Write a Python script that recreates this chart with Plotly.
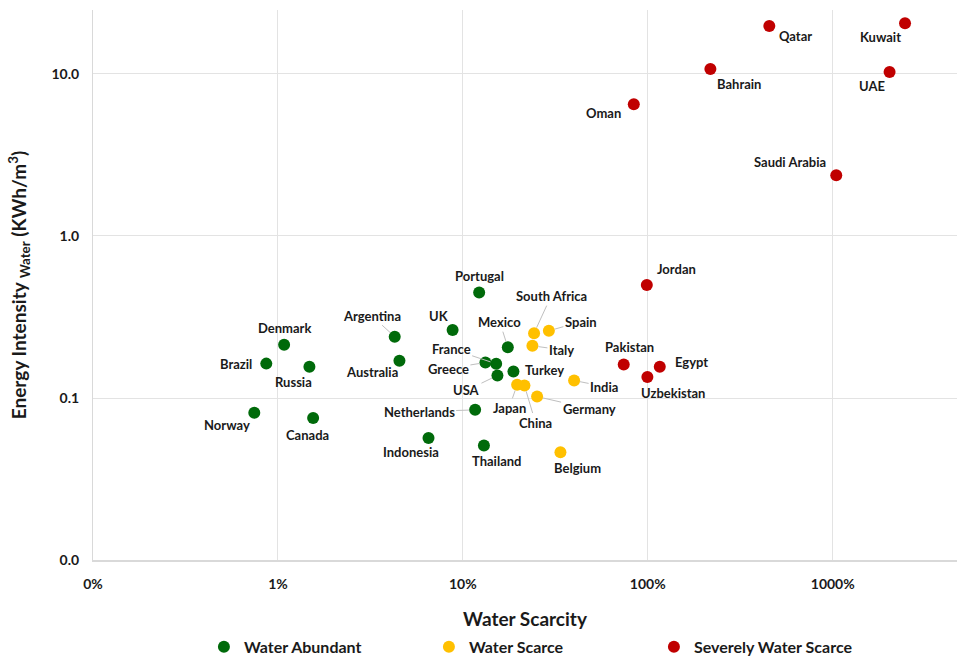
import math
import plotly.graph_objects as go

# ---- data ----
abundant_names = ["Denmark", "Brazil", "Russia", "Norway", "Canada", "Argentina", "Australia", "UK",
                  "Netherlands", "Indonesia", "Thailand", "Portugal", "Mexico", "France", "Greece",
                  "USA", "Turkey"]
abundant_x = [0.0108, 0.00865, 0.0148, 0.00745, 0.0155, 0.0428, 0.0454, 0.088,
              0.1165, 0.0652, 0.130, 0.1225, 0.175, 0.1514, 0.1324, 0.1538, 0.1877]
abundant_y = [0.213, 0.163, 0.156, 0.081, 0.0752, 0.239, 0.1696, 0.263,
              0.0845, 0.0566, 0.0509, 0.448, 0.206, 0.1626, 0.1656, 0.1378, 0.1457]

scarce_names = ["South Africa", "Spain", "Italy", "India", "Japan", "China", "Germany", "Belgium"]
scarce_x = [0.2427, 0.2918, 0.2377, 0.3996, 0.1965, 0.2153, 0.252, 0.337]
scarce_y = [0.2514, 0.260, 0.210, 0.1282, 0.1206, 0.1194, 0.102, 0.0462]

severe_names = ["Pakistan", "Egypt", "Uzbekistan", "Jordan", "Oman", "Bahrain", "Qatar", "Kuwait",
                "UAE", "Saudi Arabia"]
severe_x = [0.741, 1.161, 0.995, 0.988, 0.840, 2.18, 4.54, 24.6, 20.3, 10.45]
severe_y = [0.161, 0.1557, 0.1346, 0.499, 6.50, 10.74, 19.8, 20.6, 10.29, 2.37]

x_tickvals = [0.001, 0.01, 0.1, 1, 10]
x_ticktext = ["0%", "1%", "10%", "100%", "1000%"]
y_tickvals = [0.01, 0.1, 1, 10]
y_ticktext = ["0.0", "0.1", "1.0", "10.0"]

# ---- label styling: (dx, dy, leader) pixel offsets of label centre from the point ----
label_style = {
    "Denmark": (0, -17, False), "Brazil": (-30, 0, False), "Russia": (-16, 15, False),
    "Norway": (-27, 12, False), "Canada": (-6, 17, False), "Argentina": (-23, -21, True),
    "Australia": (-27, 11, False), "UK": (-14, -14, False), "Netherlands": (-56, 2, True),
    "Indonesia": (-18, 14, False), "Thailand": (13, 15, False), "Portugal": (0, -16, False),
    "Mexico": (-8, -25, True), "France": (-45, -15, True), "Greece": (-37, 6, True),
    "USA": (-31, 15, True), "Turkey": (31, -2, False),
    "South Africa": (17, -37, True), "Spain": (32, -9, True), "Italy": (29, 4, True),
    "India": (30, 6, True), "Japan": (-8, 23, True), "China": (11, 37, True),
    "Germany": (52, 12, True), "Belgium": (17, 16, False),
    "Pakistan": (6, -17, False), "Egypt": (32, -5, False), "Uzbekistan": (26, 16, False),
    "Jordan": (30, -16, False), "Oman": (-30, 9, False), "Bahrain": (29, 15, False),
    "Qatar": (26, 10, False), "Kuwait": (-25, 14, False), "UAE": (-18, 14, False),
    "Saudi Arabia": (-46, -13, False),
}

FONT = "Lato"
TXT = "#1a1a1a"

fig = go.Figure()
groups = [
    ("Water Abundant", abundant_names, abundant_x, abundant_y, "#006a0a"),
    ("Water Scarce", scarce_names, scarce_x, scarce_y, "#ffc000"),
    ("Severely Water Scarce", severe_names, severe_x, severe_y, "#c00000"),
]
annotations = []
for gname, names, xs, ys, col in groups:
    fig.add_trace(go.Scatter(x=xs, y=ys, mode="markers", name=gname, text=names,
                             marker=dict(size=12, color=col, line=dict(width=0))))
    for n, xv, yv in zip(names, xs, ys):
        dx, dy, leader = label_style[n]
        a = dict(x=math.log10(xv), y=math.log10(yv), xref="x", yref="y", text="<b>%s</b>" % n,
                 font=dict(family=FONT, size=13, color=TXT))
        if leader:
            a.update(showarrow=True, ax=dx, ay=dy, arrowhead=0, arrowwidth=1,
                     arrowcolor="#bfbfbf", standoff=6)
        else:
            a.update(showarrow=False, xshift=dx, yshift=-dy)
        annotations.append(a)

fig.update_layout(
    width=957, height=659,
    margin=dict(l=93, r=0, t=10, b=99, autoexpand=False),
    paper_bgcolor="white", plot_bgcolor="white",
    font=dict(family=FONT, color=TXT),
    annotations=annotations,
    showlegend=True,
    legend=dict(orientation="h", x=0.519, xanchor="center", y=-0.158, yanchor="middle",
                font=dict(family=FONT, size=16, color=TXT, weight="bold"), entrywidth=180,
                entrywidthmode="pixels", itemwidth=30, traceorder="normal"),
)
fig.update_xaxes(type="log", range=[-3, 1.672], tickvals=x_tickvals, ticktext=x_ticktext,
                 showgrid=True, gridcolor="#e3e3e3", gridwidth=1,
                 showline=True, linecolor="#d9d9d9", linewidth=2, ticks="",
                 ticklabelstandoff=10,
                 tickfont=dict(family=FONT, size=14, color=TXT, weight="bold"),
                 title=dict(text="<b>Water Scarcity</b>", font=dict(family=FONT, size=19, color=TXT),
                            standoff=22),
                 zeroline=False, automargin=False)
fig.update_yaxes(type="log", range=[-2, 1.395], tickvals=y_tickvals, ticktext=y_ticktext,
                 showgrid=True, gridcolor="#e3e3e3", gridwidth=1,
                 showline=True, linecolor="#d9d9d9", linewidth=1, ticks="",
                 ticklabelstandoff=10,
                 tickfont=dict(family=FONT, size=14, color=TXT, weight="bold"),
                 title=dict(text="<b>Energy Intensity <sub>Water</sub> (KWh/m<sup>3</sup>)</b>",
                            font=dict(family=FONT, size=19, color=TXT), standoff=19),
                 zeroline=False, automargin=False)

fig.write_html("out.html", config={"displayModeBar": False},
               post_script="document.body.style.margin='0';document.body.style.overflow='hidden';")
